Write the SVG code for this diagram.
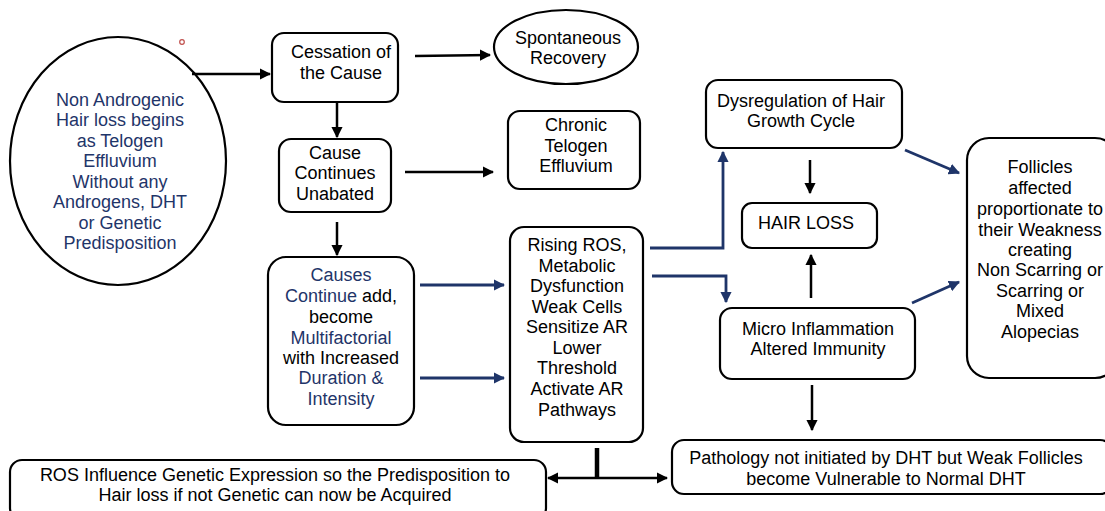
<svg xmlns="http://www.w3.org/2000/svg" width="1105" height="511" viewBox="0 0 1105 511">
<defs>
<style>
.box{fill:#fff;stroke:#000;stroke-width:2.2}
.t{font-family:"Liberation Sans",Arial,sans-serif;font-size:18px;fill:#000;text-anchor:middle;dominant-baseline:central}
.b{fill:#1F3569}
.k{stroke:#000;stroke-width:2.5;fill:none}
.n{stroke:#1F3569;stroke-width:2.8;fill:none}
</style>
<marker id="ak" viewBox="0 0 10 10" refX="9" refY="5" markerWidth="4.5" markerHeight="4.5" orient="auto" markerUnits="strokeWidth"><path d="M0,0 L10,5 L0,10 z" fill="#000"/></marker>
<marker id="an" viewBox="0 0 10 10" refX="9" refY="5" markerWidth="4" markerHeight="4" orient="auto" markerUnits="strokeWidth"><path d="M0,0 L10,5 L0,10 z" fill="#1F3569"/></marker>
<marker id="aks" viewBox="0 0 10 10" refX="1" refY="5" markerWidth="4.5" markerHeight="4.5" orient="auto" markerUnits="strokeWidth"><path d="M10,0 L0,5 L10,10 z" fill="#000"/></marker>
</defs>
<rect width="1105" height="511" fill="#fff"/>
<circle cx="182" cy="42" r="2.3" fill="none" stroke="#C0504D" stroke-width="1.2"/>

<g id="start">
<ellipse class="box" cx="118" cy="161" rx="108" ry="124"/>
<text class="t b" x="120" y="100">Non Androgenic</text>
<text class="t b" x="120" y="120">Hair loss begins</text>
<text class="t b" x="120" y="141">as Telogen</text>
<text class="t b" x="120" y="161">Effluvium</text>
<text class="t b" x="120" y="182">Without any</text>
<text class="t b" x="120" y="202">Androgens, DHT</text>
<text class="t b" x="120" y="223">or Genetic</text>
<text class="t b" x="120" y="243">Predisposition</text>
</g>

<g id="cessation">
<rect class="box" x="272" y="33" width="126" height="69" rx="12"/>
<text class="t" x="341" y="52">Cessation of</text>
<text class="t" x="341" y="73">the Cause</text>
</g>

<g id="spontaneous">
<ellipse class="box" cx="566" cy="47" rx="72" ry="37"/>
<text class="t" x="568" y="38">Spontaneous</text>
<text class="t" x="568" y="58">Recovery</text>
</g>

<g id="continues">
<rect class="box" x="279" y="139" width="112" height="73" rx="12"/>
<text class="t" x="335" y="153">Cause</text>
<text class="t" x="335" y="173">Continues</text>
<text class="t" x="335" y="194">Unabated</text>
</g>

<g id="chronic">
<rect class="box" x="508" y="111" width="132" height="78" rx="12"/>
<text class="t" x="576" y="125">Chronic</text>
<text class="t" x="576" y="146">Telogen</text>
<text class="t" x="576" y="166">Effluvium</text>
</g>

<g id="multifactorial">
<rect class="box" x="268" y="257" width="146" height="168" rx="18"/>
<text class="t b" x="341" y="275">Causes</text>
<text class="t" x="341" y="296"><tspan class="b">Continue</tspan> add,</text>
<text class="t" x="341" y="317">become</text>
<text class="t b" x="341" y="338">Multifactorial</text>
<text class="t" x="341" y="358">with Increased</text>
<text class="t b" x="341" y="378">Duration &amp;</text>
<text class="t b" x="341" y="399">Intensity</text>
</g>

<g id="ros">
<rect class="box" x="510" y="227" width="133" height="215" rx="14"/>
<text class="t" x="577" y="245">Rising ROS,</text>
<text class="t" x="577" y="266">Metabolic</text>
<text class="t" x="577" y="286">Dysfunction</text>
<text class="t" x="577" y="307">Weak Cells</text>
<text class="t" x="577" y="327">Sensitize AR</text>
<text class="t" x="577" y="348">Lower</text>
<text class="t" x="577" y="368">Threshold</text>
<text class="t" x="577" y="389">Activate AR</text>
<text class="t" x="577" y="410">Pathways</text>
</g>

<g id="dysregulation">
<rect class="box" x="706" y="80" width="196" height="68" rx="12"/>
<text class="t" x="801" y="101">Dysregulation of Hair</text>
<text class="t" x="801" y="121">Growth Cycle</text>
</g>

<g id="hairloss">
<rect class="box" x="742" y="203" width="135" height="45" rx="10"/>
<text class="t" x="806" y="223">HAIR LOSS</text>
</g>

<g id="micro">
<rect class="box" x="720" y="308" width="195" height="71" rx="12"/>
<text class="t" x="818" y="329">Micro Inflammation</text>
<text class="t" x="818" y="349">Altered Immunity</text>
</g>

<g id="follicles">
<rect class="box" x="967" y="138" width="150" height="240" rx="22"/>
<text class="t" x="1040" y="167">Follicles</text>
<text class="t" x="1040" y="188">affected</text>
<text class="t" x="1040" y="209">proportionate to</text>
<text class="t" x="1040" y="230">their Weakness</text>
<text class="t" x="1040" y="250">creating</text>
<text class="t" x="1040" y="270">Non Scarring or</text>
<text class="t" x="1040" y="291">Scarring or</text>
<text class="t" x="1040" y="311">Mixed</text>
<text class="t" x="1040" y="332">Alopecias</text>
</g>

<g id="pathology">
<rect class="box" x="672" y="440" width="440" height="54" rx="12"/>
<text class="t" x="886" y="458">Pathology not initiated by DHT but Weak Follicles</text>
<text class="t" x="886" y="479">become Vulnerable to Normal DHT</text>
</g>

<g id="acquired">
<rect class="box" x="10" y="460" width="536" height="60" rx="12"/>
<text class="t" x="275" y="475">ROS Influence Genetic Expression so the Predisposition to</text>
<text class="t" x="275" y="495">Hair loss if not Genetic can now be Acquired</text>
</g>

<g id="connectors">
<line class="k" x1="192" y1="74" x2="270" y2="74" marker-end="url(#ak)"/>
<line class="k" x1="415" y1="56" x2="490" y2="55" marker-end="url(#ak)"/>
<line class="k" x1="337" y1="103" x2="337" y2="137" marker-end="url(#ak)"/>
<line class="k" x1="405" y1="172" x2="493" y2="172" marker-end="url(#ak)"/>
<line class="k" x1="337" y1="222" x2="337" y2="255" marker-end="url(#ak)"/>
<line class="n" x1="420" y1="285" x2="504" y2="285" marker-end="url(#an)"/>
<line class="n" x1="420" y1="378" x2="504" y2="378" marker-end="url(#an)"/>
<polyline class="n" points="650,248 723,248 723,152" marker-end="url(#an)"/>
<polyline class="n" points="652,276 726,276 726,302" marker-end="url(#an)"/>
<line class="k" x1="810" y1="160" x2="810" y2="193" marker-end="url(#ak)"/>
<line class="k" x1="811" y1="298" x2="811" y2="255" marker-end="url(#ak)"/>
<line class="n" x1="905" y1="150" x2="959" y2="173" marker-end="url(#an)"/>
<line class="n" x1="912" y1="303" x2="959" y2="282" marker-end="url(#an)"/>
<line class="k" x1="812" y1="385" x2="812" y2="430" marker-end="url(#ak)"/>
<line x1="597" y1="448" x2="597" y2="478" stroke="#000" stroke-width="4.5"/>
<line class="k" x1="548" y1="478" x2="667" y2="478" marker-start="url(#aks)" marker-end="url(#ak)"/>
</g>
</svg>
